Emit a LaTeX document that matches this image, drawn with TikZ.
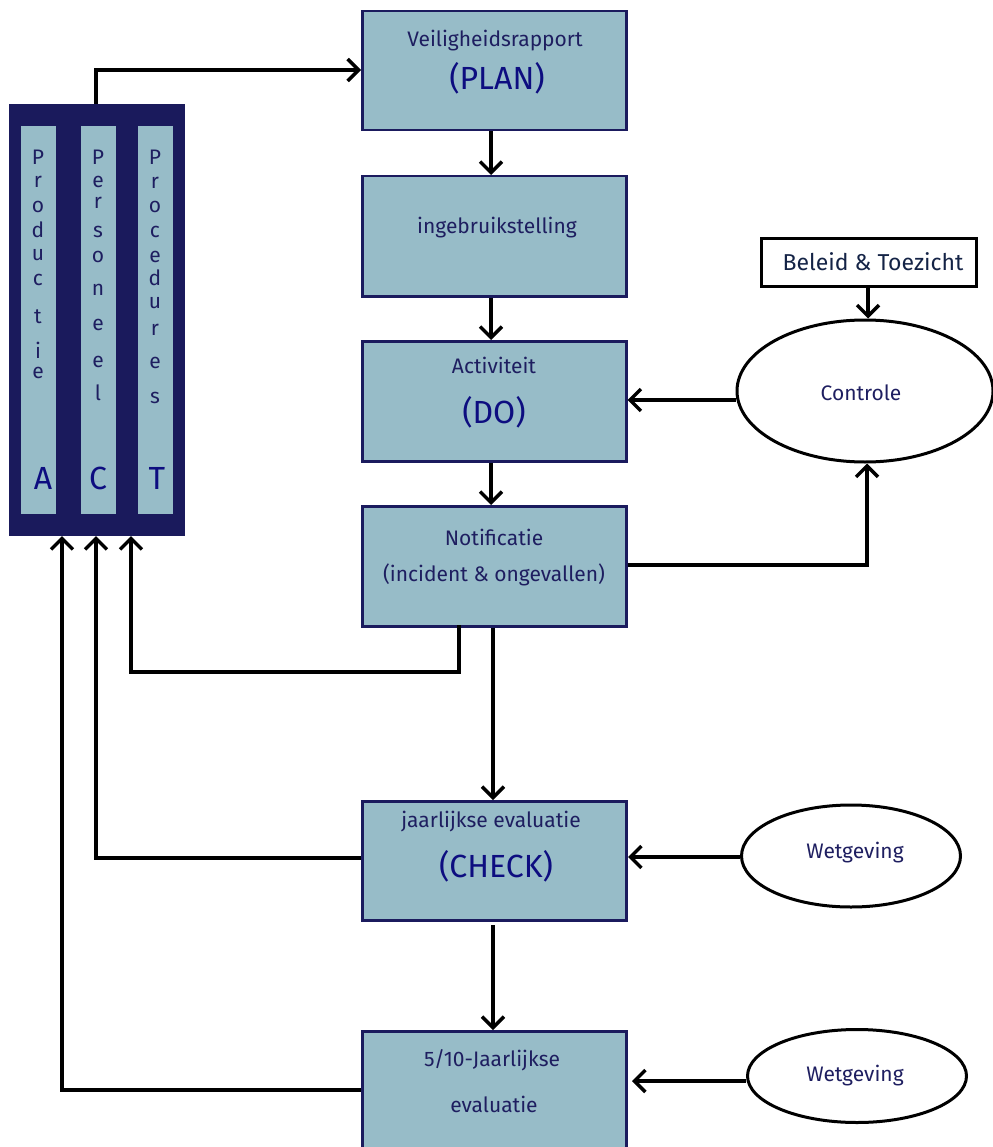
\documentclass[tikz,border=0pt]{standalone}
\usepackage{fontspec}
\setmainfont{Fira Sans}
\usetikzlibrary{arrows.meta,shapes.geometric}
\definecolor{boxfill}{RGB}{151,188,200}
\definecolor{navy}{RGB}{27,27,94}
\definecolor{actfill}{RGB}{26,26,92}
\definecolor{txt}{RGB}{30,30,96}
\definecolor{bigtxt}{RGB}{13,13,128}
\begin{document}
\begin{tikzpicture}[x=1pt,y=-1pt,
  stepbox/.style={draw=navy,line width=2.5pt,fill=boxfill},
  small/.style={text=txt,font=\fontsize{21}{24}\selectfont,inner sep=0pt},
  big/.style={text=bigtxt,font=\fontsize{32}{36}\selectfont,inner sep=0pt},
  vlet/.style={text=txt,font=\fontsize{21}{24}\selectfont,inner sep=0pt},
  conn/.style={line width=3.5pt,black},
  arr/.style={conn,-{Straight Barb[length=11pt,width=22pt]}},
  oval/.style={draw,line width=3pt,ellipse,inner sep=0pt}
]
\useasboundingbox (0,0) rectangle (992,1147);
% main boxes
\node[stepbox,minimum width=264pt,minimum height=119pt,anchor=north west] (plan) at (361,10) {};
\node[stepbox,minimum width=264pt,minimum height=120pt,anchor=north west] (inge) at (361,175) {};
\node[stepbox,minimum width=264pt,minimum height=120pt,anchor=north west] (act) at (361,340) {};
\node[stepbox,minimum width=264pt,minimum height=120pt,anchor=north west] (noti) at (361,505) {};
\node[stepbox,minimum width=264pt,minimum height=119pt,anchor=north west] (check) at (361,800) {};
\node[stepbox,minimum width=264pt,minimum height=140pt,anchor=north west] (five) at (361,1030) {};
% texts
\node[small] (t1) at (495,41) {Veiligheidsrapport};
\node[big] (t2) at (497,78) {(PLAN)};
\node[small] (t3) at (497,228) {ingebruikstelling};
\node[small] (t4) at (494,365) {Activiteit};
\node[big] (t5) at (494,412) {(DO)};
\node[small] (t6) at (494,537) {Notificatie};
\node[small] (t7) at (494,575) {(incident \& ongevallen)};
\node[small] (t8) at (491,822) {jaarlijkse evaluatie};
\node[big] (t9) at (496,866) {(CHECK)};
\node[small] (t10) at (492,1060) {5/10-Jaarlijkse};
\node[small] (t11) at (494,1104) {evaluatie};
% ACT block
\node[fill=actfill,minimum width=176pt,minimum height=432pt,anchor=north west,inner sep=0pt] (actblk) at (9,104) {};
\node[fill=boxfill,minimum width=35pt,minimum height=388pt,anchor=north west,inner sep=0pt] (colA) at (21,126) {};
\node[fill=boxfill,minimum width=35pt,minimum height=388pt,anchor=north west,inner sep=0pt] (colC) at (81,126) {};
\node[fill=boxfill,minimum width=35pt,minimum height=388pt,anchor=north west,inner sep=0pt] (colT) at (138,126) {};
\foreach \l/\y [count=\i] in {P/157,r/182,o/207,d/230,u/255,c/280,t/317,i/350,e/373}
  \node[vlet] (pa\i) at (38,\y) {\l};
\foreach \l/\y [count=\i] in {P/157,e/182,r/203,s/232,o/257,n/290,e/325,e/362,l/393}
  \node[vlet] (pc\i) at (98,\y) {\l};
\foreach \l/\y [count=\i] in {P/157,r/183,o/207,c/232,e/257,d/278,u/303,r/330,e/363,s/398}
  \node[vlet] (pt\i) at (155,\y) {\l};
\node[big] (lA) at (43,478) {A};
\node[big] (lC) at (98,478) {C};
\node[big] (lT) at (157,478) {T};
% right side
\node[draw,line width=3pt,minimum width=215pt,minimum height=48pt,anchor=north west,inner sep=0pt] (bel) at (760,237) {};
\node[text={rgb,255:red,20;green,35;blue,70},font=\fontsize{23}{26}\selectfont,inner sep=0pt] (belt) at (873,262) {Beleid \& Toezicht};
\node[oval,minimum width=256pt,minimum height=142pt] (contr) at (865,391) {};
\node[small] (contrt) at (861,393) {Controle};
\node[oval,minimum width=219pt,minimum height=102pt] (wet1) at (851,856) {};
\node[small] (wet1t) at (855,853) {Wetgeving};
\node[oval,minimum width=219pt,minimum height=93pt] (wet2) at (857,1076) {};
\node[small] (wet2t) at (855,1076) {Wetgeving};
% coordinates
\coordinate (actTop) at (96,104);
\coordinate (c1) at (96,70);
\coordinate (nl) at (459,625);
\coordinate (nl2) at (459,672);
\coordinate (nl3) at (131,672);
\coordinate (tBot) at (131,536);
\coordinate (cBot) at (96,536);
\coordinate (aBot) at (62,536);
% connectors
\draw[arr] (actTop) -- (c1) -- (plan.west |- c1);
\draw[arr] (plan.south -| 491,0) -- (inge.north -| 491,0);
\draw[arr] (inge.south -| 491,0) -- (act.north -| 491,0);
\draw[arr] (act.south -| 491,0) -- (noti.north -| 491,0);
\draw[arr] (noti.south -| 493,0) -- (check.north -| 493,0);
\draw[arr] (493,925) -- (five.north -| 493,0);
\draw[arr] (nl) -- (nl2) -- (nl3) -- (tBot);
\draw[arr] (check.west |- 0,858) -| (cBot);
\draw[arr] (five.west |- 0,1090) -| (aBot);
\draw[arr] (noti.east |- 0,565) -| (contr.south -| 867,0);
\draw[arr] (contr.west |- 0,400) -- (act.east |- 0,400);
\draw[arr] (bel.south -| 868,0) -- (contr.north -| 868,0);
\draw[arr] (wet1.west |- 0,857) -- (628,857);
\draw[arr] (wet2.west |- 0,1081) -- (632,1081);
\end{tikzpicture}
\end{document}
